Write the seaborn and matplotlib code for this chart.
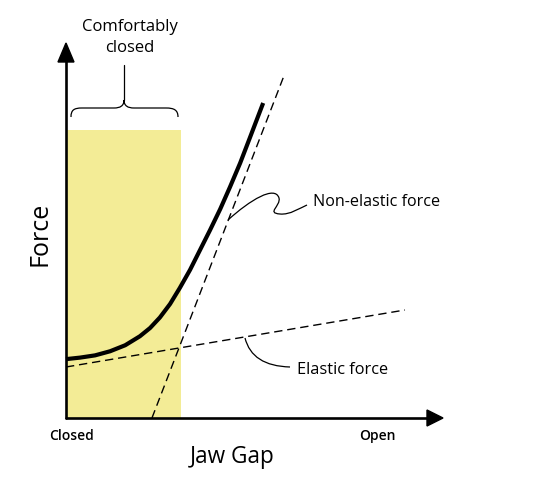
import matplotlib
matplotlib.use('Agg')
import matplotlib.pyplot as plt
import seaborn as sns
import pandas as pd
from matplotlib.path import Path
from matplotlib.patches import PathPatch, Polygon

# ---- data (arbitrary units: jaw gap 0..10, force 0..10) ----
gap_curve = [0.00, 0.37, 0.77, 1.17, 1.57, 1.96, 2.23, 2.49, 2.76, 3.02, 3.29,
             3.55, 3.82, 4.09, 4.35, 4.62, 4.88, 5.23]
force_total = [1.57, 1.61, 1.67, 1.78, 1.94, 2.18, 2.40, 2.68, 3.04, 3.47, 3.95,
               4.47, 5.01, 5.57, 6.16, 6.80, 7.48, 8.40]
elastic_gap = [0.00, 8.99]
elastic_force = [1.36, 2.88]
nonelastic_gap = [2.28, 5.76]
nonelastic_force = [0.00, 9.07]
zone_gap = 3.05
zone_force = 7.68
x_labels = ["Closed", "Open"]

sns.set_theme(style='white')
plt.rcParams['font.family'] = ['Open Sans', 'DejaVu Sans']
plt.rcParams['text.color'] = 'black'

W, H = 545, 495
X0, Y0 = 66, 418
SX, SY = 37.7, 37.5


def P(px, py):
    return ((px - X0) / SX, (Y0 - py) / SY)


fig = plt.figure(figsize=(W / 100, H / 100), dpi=100, facecolor='white')
ax = fig.add_axes([X0 / W, (H - Y0) / H, 10 * SX / W, 10 * SY / H])
ax.set_xlim(0, 10)
ax.set_ylim(0, 10)
ax.axis('off')

# comfortably closed zone
ax.bar(0, zone_force, width=zone_gap, align='edge', color='#F3EC96', linewidth=0, zorder=1)

df_c = pd.DataFrame({'gap': gap_curve, 'force': force_total})
df_e = pd.DataFrame({'gap': elastic_gap, 'force': elastic_force})
df_n = pd.DataFrame({'gap': nonelastic_gap, 'force': nonelastic_force})

sns.lineplot(data=df_e, x='gap', y='force', ax=ax, color='black', lw=1.0,
             linestyle=(0, (6, 3.5)), sort=False, zorder=3)
sns.lineplot(data=df_n, x='gap', y='force', ax=ax, color='black', lw=1.0,
             linestyle=(0, (6, 3.5)), sort=False, zorder=3)
sns.lineplot(data=df_c, x='gap', y='force', ax=ax, color='black', lw=3.0,
             sort=False, zorder=4)
for l in ax.lines:
    l.set_clip_on(False)
    l.set_solid_capstyle('butt')
    l.set_dash_capstyle('butt')
    l.set_solid_joinstyle('round')

# axes with arrows
ax.plot([0, 0], [0, P(0, 60)[1]], color='black', lw=1.9, clip_on=False, zorder=5)
ax.plot([0, P(428, 0)[0]], [0, 0], color='black', lw=1.9, clip_on=False, zorder=5)
ax.add_patch(Polygon([P(66, 43), P(58, 62), P(74, 62)], closed=True,
                     color='black', clip_on=False, zorder=6))
ax.add_patch(Polygon([P(443, 418), P(427, 410), P(427, 426)], closed=True,
                     color='black', clip_on=False, zorder=6))

# brace
bv = [P(71, 117), P(71, 110), P(74, 108), P(82, 108),
      P(114, 108),
      P(120, 108), P(124, 106), P(124, 100),
      P(124, 106), P(128, 108), P(134, 108),
      P(166, 108),
      P(174, 108), P(178, 110), P(178, 117)]
bc = [Path.MOVETO, Path.CURVE4, Path.CURVE4, Path.CURVE4,
      Path.LINETO,
      Path.CURVE4, Path.CURVE4, Path.CURVE4,
      Path.CURVE4, Path.CURVE4, Path.CURVE4,
      Path.LINETO,
      Path.CURVE4, Path.CURVE4, Path.CURVE4]
ax.add_patch(PathPatch(Path(bv, bc), fill=False, lw=0.9, color='black', clip_on=False))
ax.plot(*zip(P(124, 100), P(124, 65)), color='black', lw=0.9, clip_on=False)

# leader for non-elastic
sv = [P(228, 220), P(250, 200), P(275, 185), P(279, 198),
      P(281, 206), P(266, 213), P(280, 214),
      P(290, 215), P(300, 208), P(307, 205)]
sc = [Path.MOVETO] + [Path.CURVE4] * 9
ax.add_patch(PathPatch(Path(sv, sc), fill=False, lw=0.9, color='black', clip_on=False))

# leader for elastic
ev = [P(245, 338), P(252, 366), P(290, 367)]
ec = [Path.MOVETO, Path.CURVE3, Path.CURVE3]
ax.add_patch(PathPatch(Path(ev, ec), fill=False, lw=0.9, color='black', clip_on=False))

# texts
tk = dict(ha='center', va='center', color='black')
ax.text(*P(130, 27), "Comfortably", fontsize=12, **tk)
ax.text(*P(130, 48), "closed", fontsize=12, **tk)
ax.text(*P(377, 202), "Non-elastic force", fontsize=11.6, **tk)
ax.text(*P(343, 370), "Elastic force", fontsize=11.8, **tk)
ax.text(*P(72, 436), x_labels[0], fontsize=10, fontweight='semibold', **tk)
ax.text(*P(377, 436), x_labels[1], fontsize=10, fontweight='semibold', **tk)
ax.text(*P(232, 457), "Jaw Gap", fontsize=16.3, **tk)
ax.text(*P(40, 234), "Force", fontsize=18, rotation=90, **tk)

fig.savefig('out.png', dpi=100, facecolor='white')
